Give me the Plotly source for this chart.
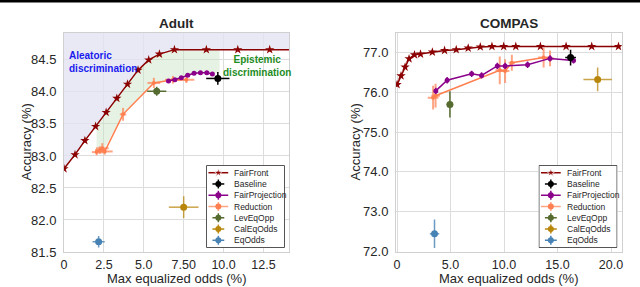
import numpy as np
import plotly.graph_objects as go

# ---------------- DATA ----------------
series_names = ["FairFront", "Baseline", "FairProjection", "Reduction", "LevEqOpp", "CalEqOdds", "EqOdds"]

# Adult
adult_ff_x = [0.0, 0.69, 1.31, 1.98, 2.64, 3.31, 3.98, 4.64, 5.31, 5.98, 6.92, 8.92, 10.89, 12.89, 14.89]
adult_ff_y = [82.80, 83.02, 83.24, 83.46, 83.68, 83.90, 84.12, 84.34, 84.50, 84.59, 84.66, 84.66, 84.66, 84.66, 84.66]

adult_base_x, adult_base_y, adult_base_xerr, adult_base_yerr = [9.64], [84.21], [0.73], [0.10]

adult_fp_x = [6.55, 6.95, 7.35, 7.75, 8.15, 8.55, 8.95, 9.30]
adult_fp_y = [84.17, 84.19, 84.22, 84.26, 84.29, 84.30, 84.30, 84.28]
adult_fp_xerr = [0.08] * 8
adult_fp_yerr = [0.02] * 8

adult_red_x = [2.05, 2.25, 2.40, 2.55, 3.70, 5.63, 6.83, 7.67]
adult_red_y = [83.06, 83.09, 83.12, 83.07, 83.65, 84.14, 84.19, 84.19]
adult_red_xerr = [0.30, 0.30, 0.40, 0.50, 0.20, 0.40, 0.50, 0.50]
adult_red_yerr = [0.05, 0.06, 0.08, 0.05, 0.10, 0.08, 0.06, 0.05]

adult_lev_x, adult_lev_y, adult_lev_xerr, adult_lev_yerr = [5.81], [84.01], [0.60], [0.07]
adult_cal_x, adult_cal_y, adult_cal_xerr, adult_cal_yerr = [7.50], [82.20], [0.93], [0.17]
adult_eq_x, adult_eq_y, adult_eq_xerr, adult_eq_yerr = [2.17], [81.66], [0.38], [0.09]

# epistemic region lower boundary (Adult)
adult_epi_low_x = [2.04, 2.45, 3.70, 5.63, 6.55, 7.35, 8.15, 8.95, 9.75]
adult_epi_low_y = [83.05, 83.08, 83.65, 84.14, 84.17, 84.22, 84.29, 84.30, 84.30]

# COMPAS
compas_ff_x = [0.0, 0.37, 0.75, 1.12, 1.63, 2.19, 3.30, 4.44, 5.53, 6.65, 7.78, 8.87, 9.97, 11.1, 13.4, 15.8, 18.2, 20.7]
compas_ff_y = [76.20, 76.42, 76.64, 76.85, 76.95, 76.97, 77.02, 77.06, 77.08, 77.12, 77.15, 77.16, 77.16, 77.16, 77.16, 77.16, 77.16, 77.16]

compas_base_x, compas_base_y, compas_base_xerr, compas_base_yerr = [16.22], [76.88], [0.50], [0.20]

compas_fp_x = [3.62, 4.68, 6.97, 7.90, 9.37, 10.1, 12.2, 14.3, 16.5]
compas_fp_y = [76.04, 76.31, 76.47, 76.43, 76.67, 76.67, 76.70, 76.86, 76.81]
compas_fp_xerr = [0.15] * 9
compas_fp_yerr = [0.08] * 9

compas_red_x = [3.37, 3.60, 9.60, 10.1, 10.73, 13.7, 14.3]
compas_red_y = [75.87, 75.92, 76.56, 76.54, 76.75, 76.88, 76.86]
compas_red_xerr = [0.50, 0.40, 0.40, 0.40, 0.30, 0.50, 0.40]
compas_red_yerr = [0.30, 0.30, 0.35, 0.30, 0.20, 0.25, 0.20]

compas_lev_x, compas_lev_y, compas_lev_xerr, compas_lev_yerr = [4.94], [75.70], [0.30], [0.33]
compas_cal_x, compas_cal_y, compas_cal_xerr, compas_cal_yerr = [18.75], [76.33], [1.33], [0.30]
compas_eq_x, compas_eq_y, compas_eq_xerr, compas_eq_yerr = [3.50], [72.44], [0.44], [0.36]

adult_xtick_vals = [0, 2.5, 5.0, 7.5, 10.0, 12.5]
adult_xtick_text = ["0", "2.5", "5.0", "7.50", "10.0", "12.5"]
adult_ytick_vals = [81.5, 82.0, 82.5, 83.0, 83.5, 84.0, 84.5]
compas_xtick_vals = [0, 5, 10, 15, 20]
compas_xtick_text = ["0", "5.0", "10.0", "15.0", "20.0"]
compas_ytick_vals = [72, 73, 74, 75, 76, 77]

# ---------------- STYLE ----------------
FONT = "Liberation Sans, Arial, sans-serif"
TXT = "#262626"
colors = {
    "FairFront": "#8b0000",
    "Baseline": "#000000",
    "FairProjection": "#8b008b",
    "Reduction": "#ff7f50",
    "LevEqOpp": "#556b2f",
    "CalEqOdds": "#b8860b",
    "EqOdds": "#4682b4",
}
W, H = 640, 287
ADULT_XR = [0, 14.1]
ADULT_YR = [81.5, 84.92]
COMPAS_XR = [-0.1, 21.0]
COMPAS_YR = [71.98, 77.5]

def px_x(p):
    return p / W

def px_y(p):
    return 1 - p / H

fig = go.Figure()

# --- Adult shaded regions ---
alea_x = adult_ff_x + [adult_ff_x[-1], adult_ff_x[0]]
alea_y = adult_ff_y + [ADULT_YR[1] + 1, ADULT_YR[1] + 1]
fig.add_trace(go.Scatter(x=alea_x, y=alea_y, fill="toself", fillcolor="rgba(226,228,242,0.8)",
                         line=dict(width=0), mode="lines", hoverinfo="skip", showlegend=False,
                         xaxis="x", yaxis="y"))
lo, hi = adult_epi_low_x[0], adult_epi_low_x[-1]
top_x = [lo] + [v for v in adult_ff_x if lo < v < hi] + [hi]
top_y = list(np.interp(top_x, adult_ff_x, adult_ff_y))
epi_x = top_x + adult_epi_low_x[::-1]
epi_y = top_y + adult_epi_low_y[::-1]
fig.add_trace(go.Scatter(x=epi_x, y=epi_y, fill="toself", fillcolor="rgba(200,228,195,0.45)",
                         line=dict(width=0), mode="lines", hoverinfo="skip", showlegend=False,
                         xaxis="x", yaxis="y"))

def add_err(x, y, xerr, yerr, name, xa, ya, lines=False, msize=6, symbol="circle",
            ecolor=None, lw=1.5, ethick=1.5):
    c = colors[name]
    ec = ecolor or c
    fig.add_trace(go.Scatter(
        x=x, y=y, mode="lines+markers" if lines else "markers",
        line=dict(color=c, width=lw),
        marker=dict(color=c, size=msize, symbol=symbol),
        error_x=dict(type="data", array=xerr, color=ec, thickness=ethick, width=0),
        error_y=dict(type="data", array=yerr, color=ec, thickness=ethick, width=0),
        showlegend=False, xaxis=xa, yaxis=ya))

for (xa, ya, d) in [
    ("x", "y", dict(ff=(adult_ff_x, adult_ff_y),
                    base=(adult_base_x, adult_base_y, adult_base_xerr, adult_base_yerr),
                    fp=(adult_fp_x, adult_fp_y, adult_fp_xerr, adult_fp_yerr),
                    red=(adult_red_x, adult_red_y, adult_red_xerr, adult_red_yerr),
                    lev=(adult_lev_x, adult_lev_y, adult_lev_xerr, adult_lev_yerr),
                    cal=(adult_cal_x, adult_cal_y, adult_cal_xerr, adult_cal_yerr),
                    eq=(adult_eq_x, adult_eq_y, adult_eq_xerr, adult_eq_yerr))),
    ("x2", "y2", dict(ff=(compas_ff_x, compas_ff_y),
                      base=(compas_base_x, compas_base_y, compas_base_xerr, compas_base_yerr),
                      fp=(compas_fp_x, compas_fp_y, compas_fp_xerr, compas_fp_yerr),
                      red=(compas_red_x, compas_red_y, compas_red_xerr, compas_red_yerr),
                      lev=(compas_lev_x, compas_lev_y, compas_lev_xerr, compas_lev_yerr),
                      cal=(compas_cal_x, compas_cal_y, compas_cal_xerr, compas_cal_yerr),
                      eq=(compas_eq_x, compas_eq_y, compas_eq_xerr, compas_eq_yerr))),
]:
    add_err(*d["red"], "Reduction", xa, ya, lines=True, msize=4, ecolor="rgba(255,127,80,0.7)", ethick=2)
    add_err(*d["fp"], "FairProjection", xa, ya, lines=True, msize=5)
    fig.add_trace(go.Scatter(x=d["ff"][0], y=d["ff"][1], mode="lines+markers",
                             line=dict(color=colors["FairFront"], width=1.5),
                             marker=dict(color=colors["FairFront"], size=7, symbol="star"),
                             showlegend=False, xaxis=xa, yaxis=ya))
    add_err(*d["base"], "Baseline", xa, ya, msize=7)
    add_err(*d["lev"], "LevEqOpp", xa, ya, msize=7)
    add_err(*d["cal"], "CalEqOdds", xa, ya, msize=7, ecolor="rgba(184,134,11,0.75)")
    add_err(*d["eq"], "EqOdds", xa, ya, msize=7, ecolor="rgba(70,130,180,0.8)")

# --- custom legends (drawn in their own small axes, pixel units) ---
LEG_W, LEG_H = 79, 83
ITEM_Y0, ITEM_DY = 7.3, 11.4
GLYPH_X, TEXT_X = 12, 26
for xa, ya in [("x3", "y3"), ("x4", "y4")]:
    fig.add_trace(go.Scatter(x=[0, LEG_W, LEG_W, 0, 0], y=[0, 0, LEG_H, LEG_H, 0], fill="toself",
                             fillcolor="white", mode="lines", line=dict(color="#555555", width=1),
                             hoverinfo="skip", showlegend=False, xaxis=xa, yaxis=ya))
    for i, name in enumerate(series_names):
        yy = ITEM_Y0 + ITEM_DY * i
        c = colors[name]
        if name == "FairFront":
            fig.add_trace(go.Scatter(x=[GLYPH_X - 10, GLYPH_X, GLYPH_X + 10], y=[yy, yy, yy],
                                     mode="lines+markers", line=dict(color=c, width=1.5),
                                     marker=dict(color=c, size=[0, 7, 0], symbol="star"),
                                     showlegend=False, xaxis=xa, yaxis=ya))
        else:
            arm = 10 if name in ("FairProjection", "Reduction") else 6
            ec = "rgba(255,127,80,0.7)" if name == "Reduction" else c
            fig.add_trace(go.Scatter(x=[GLYPH_X], y=[yy], mode="markers",
                                     marker=dict(color=c, size=6, symbol="circle"),
                                     error_x=dict(type="constant", value=arm, color=ec, thickness=1.5, width=0),
                                     error_y=dict(type="constant", value=4.5, color=ec, thickness=1.5, width=0),
                                     showlegend=False, xaxis=xa, yaxis=ya))
        fig.add_annotation(x=TEXT_X, y=yy, xref=xa, yref=ya, text=name, showarrow=False,
                           xanchor="left", yanchor="middle",
                           font=dict(family=FONT, size=8.5, color=TXT))

# --- annotations ---
fig.add_annotation(x=0.2, y=84.47, xref="x", yref="y", xanchor="left", yanchor="middle", align="left",
                   text="<b>Aleatoric<br>discrimination</b>", showarrow=False,
                   font=dict(family=FONT, size=10, color="#1a1aee"))
fig.add_annotation(x=12.1, y=84.40, xref="x", yref="y", xanchor="center", yanchor="middle", align="center",
                   text="<b>Epistemic<br>discrimination</b>", showarrow=False,
                   font=dict(family=FONT, size=10, color="#1e8c1e"))

for cx, t in [((64 + 289) / 2, "Adult"), ((396 + 621.7) / 2, "COMPAS")]:
    fig.add_annotation(x=px_x(cx), y=px_y(24), xref="paper", yref="paper", text=f"<b>{t}</b>",
                       showarrow=False, xanchor="center", yanchor="middle",
                       font=dict(family=FONT, size=13.5, color=TXT))
    fig.add_annotation(x=px_x(cx), y=px_y(278.5), xref="paper", yref="paper",
                       text="Max equalized odds (%)", showarrow=False, xanchor="center", yanchor="middle",
                       font=dict(family=FONT, size=13, color=TXT))
for cx in [26, 355]:
    fig.add_annotation(x=px_x(cx), y=px_y(142.5), xref="paper", yref="paper", text="Accuracy (%)",
                       textangle=-90, showarrow=False, xanchor="center", yanchor="middle",
                       font=dict(family=FONT, size=13, color=TXT))

# page top border
fig.add_shape(type="line", xref="paper", yref="paper", x0=0, x1=1, y0=px_y(1.2), y1=px_y(1.2),
              line=dict(color="black", width=2.5))

axis_common = dict(showgrid=True, gridcolor="#dcdcdc", gridwidth=1, zeroline=False,
                   showline=True, mirror=True, linecolor="#d0d0d0", linewidth=1,
                   tickcolor="rgba(0,0,0,0)", fixedrange=True)
xax = dict(ticks="outside", ticklen=1, tickfont=dict(family=FONT, size=12.5, color=TXT), **axis_common)
yax = dict(ticks="outside", ticklen=4, tickfont=dict(family=FONT, size=13, color=TXT), **axis_common)
ydom = [px_y(252), px_y(33)]
fig.update_layout(
    width=W, height=H, margin=dict(l=0, r=0, t=0, b=0, autoexpand=False),
    paper_bgcolor="white", plot_bgcolor="white", showlegend=False,
    xaxis=dict(domain=[px_x(64), px_x(289)], range=ADULT_XR, anchor="y",
               tickvals=adult_xtick_vals, ticktext=adult_xtick_text, **xax),
    yaxis=dict(domain=ydom, range=ADULT_YR, anchor="x",
               tickvals=adult_ytick_vals, ticktext=[f"{v:.1f}" for v in adult_ytick_vals], **yax),
    xaxis2=dict(domain=[px_x(396), px_x(621.7)], range=COMPAS_XR, anchor="y2",
                tickvals=compas_xtick_vals, ticktext=compas_xtick_text, **xax),
    yaxis2=dict(domain=ydom, range=COMPAS_YR, anchor="x2",
                tickvals=compas_ytick_vals, ticktext=[f"{v:.1f}" for v in compas_ytick_vals], **yax),
    xaxis3=dict(domain=[px_x(206), px_x(206 + LEG_W)], range=[-0.5, LEG_W + 0.5], anchor="y3", visible=False, fixedrange=True),
    yaxis3=dict(domain=[px_y(165 + LEG_H), px_y(165)], range=[LEG_H + 0.5, -0.5], anchor="x3", visible=False, fixedrange=True),
    xaxis4=dict(domain=[px_x(538.5), px_x(538.5 + LEG_W)], range=[-0.5, LEG_W + 0.5], anchor="y4", visible=False, fixedrange=True),
    yaxis4=dict(domain=[px_y(165 + LEG_H), px_y(165)], range=[LEG_H + 0.5, -0.5], anchor="x4", visible=False, fixedrange=True),
)

fig.write_html("out.html", config={"displayModeBar": False},
               post_script="document.body.style.margin='0';document.body.style.overflow='hidden';")
